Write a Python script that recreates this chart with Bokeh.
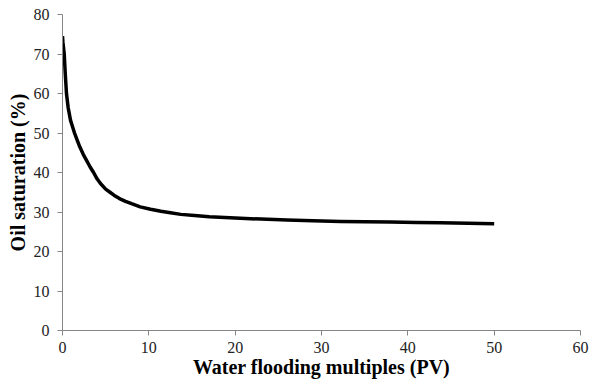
from bokeh.plotting import figure
from bokeh.models import Range1d, SingleIntervalTicker
from bokeh.embed import file_html
from bokeh.resources import INLINE

pv = [0, 0.05, 0.1, 0.2, 0.32, 0.46, 0.65, 0.93, 1.12, 1.39, 1.7, 2.0, 2.4, 2.8, 3.2, 3.6, 4.0,
      4.4, 5.0, 5.5, 6.0, 6.6, 7.3, 8.0, 9.0, 10.2, 11.4, 12.5, 13.7, 15.3, 17.0, 18.8, 20.6,
      23.0, 26.0, 29.0, 32.2, 35.0, 38.0, 41.0, 43.8, 47.0, 50.0]
oil_sat = [74.5, 73.0, 72.0, 70.0, 65.0, 60.0, 56.5, 53.2, 51.9, 50.0, 48.2, 46.5, 44.6, 43.0,
           41.4, 40.0, 38.4, 37.2, 35.8, 35.0, 34.2, 33.4, 32.7, 32.1, 31.3, 30.7, 30.2, 29.8,
           29.4, 29.1, 28.8, 28.6, 28.4, 28.2, 28.0, 27.8, 27.6, 27.55, 27.45, 27.35, 27.3,
           27.15, 27.0]

p = figure(width=592, height=386, output_backend="svg", toolbar_location=None,
           x_range=Range1d(0, 60), y_range=Range1d(0, 80),
           min_border_left=62, min_border_right=12, min_border_top=14, min_border_bottom=56)
p.outline_line_color = None
p.xgrid.grid_line_color = None
p.ygrid.grid_line_color = None

p.line(pv, oil_sat, line_color="black", line_width=3.5, line_join="round")

for ax in (p.xaxis[0], p.yaxis[0]):
    ax.ticker = SingleIntervalTicker(interval=10, num_minor_ticks=0)
    ax.axis_line_color = "#868686"
    ax.major_tick_line_color = "#868686"
    ax.major_tick_in = 0
    ax.major_tick_out = 5
    ax.minor_tick_line_color = None
    ax.major_label_text_font = "Liberation Serif"
    ax.major_label_text_font_size = "16px"
    ax.major_label_text_color = "#222222"
    ax.axis_label_text_font = "Liberation Serif"
    ax.axis_label_text_font_style = "bold"
    ax.axis_label_text_font_size = "20px"
    ax.axis_label_text_color = "black"

p.xaxis.axis_label = "Water flooding multiples (PV)"
p.yaxis.axis_label = "Oil saturation (%)"
p.xaxis.major_label_standoff = 6
p.yaxis.major_label_standoff = 8
p.xaxis.axis_label_standoff = 0
p.yaxis.axis_label_standoff = 2

open("out.html", "w").write(file_html(p, INLINE))
